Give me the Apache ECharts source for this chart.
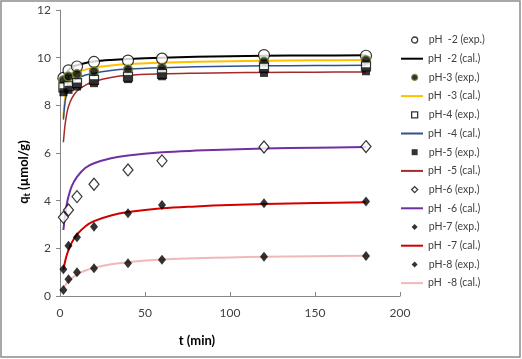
<!DOCTYPE html>
<html><head><meta charset="utf-8">
<script src="https://cdn.jsdelivr.net/npm/echarts@6/dist/echarts.min.js"></script>
<style>html,body{margin:0;padding:0;background:#fff}#c{width:522px;height:359px}</style>
</head><body><div id="c"></div>
<script>
// Experimental time points (min)
const tExp = [2, 5, 10, 20, 40, 60, 120, 180];
// Calculated curve time points (min)
const tCal = [2, 3, 4, 5, 7, 10, 15, 20, 30, 40, 60, 80, 100, 120, 150, 180];

const pH2Exp = [9.15, 9.47, 9.63, 9.82, 9.88, 9.96, 10.11, 10.08];
const pH3Exp = [9.05, 9.21, 9.31, 9.42, 9.5, 9.57, 9.83, 9.89];
const pH4Exp = [8.75, 8.8, 8.93, 9.07, 9.2, 9.32, 9.58, 9.63];
const pH5Exp = [8.55, 8.65, 8.79, 8.93, 9.1, 9.22, 9.36, 9.43];
const pH6Exp = [3.3, 3.61, 4.17, 4.69, 5.29, 5.67, 6.25, 6.27];
const pH7Exp = [1.12, 2.11, 2.46, 2.91, 3.47, 3.82, 3.89, 3.96];
const pH8Exp = [0.25, 0.7, 1.0, 1.16, 1.37, 1.52, 1.65, 1.68];

const pH2Cal = [8.9, 9.2, 9.38, 9.48, 9.6, 9.68, 9.78, 9.84, 9.9, 9.94, 10.0, 10.04, 10.06, 10.08, 10.09, 10.1];
const pH3Cal = [7.5, 8.3, 8.7, 8.95, 9.2, 9.35, 9.5, 9.58, 9.67, 9.73, 9.79, 9.83, 9.85, 9.87, 9.89, 9.9];
const pH4Cal = [7.4, 8.15, 8.5, 8.72, 8.95, 9.12, 9.27, 9.35, 9.46, 9.52, 9.58, 9.62, 9.64, 9.66, 9.67, 9.68];
const pH5Cal = [6.45, 7.2, 7.65, 7.95, 8.3, 8.6, 8.85, 9.0, 9.17, 9.26, 9.32, 9.35, 9.37, 9.38, 9.39, 9.4];
const pH6Cal = [2.77, 3.4, 3.85, 4.18, 4.62, 5.0, 5.38, 5.57, 5.78, 5.9, 6.03, 6.1, 6.15, 6.19, 6.22, 6.25];
const pH7Cal = [1.1, 1.45, 1.72, 1.92, 2.25, 2.58, 2.93, 3.14, 3.38, 3.52, 3.68, 3.76, 3.82, 3.86, 3.9, 3.93];
const pH8Cal = [0.32, 0.44, 0.54, 0.62, 0.75, 0.9, 1.07, 1.18, 1.33, 1.42, 1.53, 1.58, 1.62, 1.65, 1.67, 1.69];

const xTicks = [0, 50, 100, 150, 200];
const yTicks = [0, 2, 4, 6, 8, 10, 12];

const expNames = ['pH  -2 (exp.)', 'pH-3 (exp.)', 'pH-4 (exp.)', 'pH-5 (exp.)', 'pH-6 (exp.)', 'pH-7 (exp.)', 'pH-8 (exp.)'];
const calNames = ['pH  -2 (cal.)', 'pH  -3 (cal.)', 'pH  -4 (cal.)', 'pH  -5 (cal.)', 'pH  -6 (cal.)', 'pH  -7 (cal.)', 'pH  -8 (cal.)'];

const zip = (xs, ys) => xs.map((x, i) => [x, ys[i]]);
const FONT = 'Lato, "Open Sans", sans-serif';

function sc(name, ys, symbol, size, style) {
  return { name, type: 'scatter', data: zip(tExp, ys), symbol, symbolSize: size, itemStyle: style, z: 3 };
}
function ln(name, ys, color, width) {
  return { name, type: 'line', data: zip(tCal, ys), symbol: 'none', smooth: 0.35,
    lineStyle: { color, width }, itemStyle: { color }, z: 2 };
}

const expStyles = [
  { icon: 'circle', itemStyle: { color: '#fff', borderColor: '#000', borderWidth: 1.3 } },
  { icon: 'circle', itemStyle: { color: '#000', borderColor: '#6e8b2e', borderWidth: 1.2 } },
  { icon: 'rect', itemStyle: { color: '#fff', borderColor: '#000', borderWidth: 1.3 } },
  { icon: 'rect', itemStyle: { color: '#000', borderWidth: 0 } },
  { icon: 'diamond', itemStyle: { color: '#fff', borderColor: '#000', borderWidth: 1.3 } },
  { icon: 'diamond', itemStyle: { color: '#000', borderWidth: 0 } },
  { icon: 'diamond', itemStyle: { color: '#000', borderWidth: 0 } }
];
const calColors = ['#000000', '#FFC000', '#2F528F', '#A52A2A', '#7030A0', '#D00000', '#F2B8B8'];

const series = [
  sc(expNames[0], pH2Exp, 'circle', 11, { color: '#fff', borderColor: '#000', borderWidth: 1.2 }),
  ln(calNames[0], pH2Cal, calColors[0], 2),
  sc(expNames[1], pH3Exp, 'circle', 9, { color: '#000', borderColor: '#6e8b2e', borderWidth: 1.5 }),
  ln(calNames[1], pH3Cal, calColors[1], 2),
  sc(expNames[2], pH4Exp, 'rect', 9, { color: '#fff', borderColor: '#000', borderWidth: 1.2 }),
  ln(calNames[2], pH4Cal, calColors[2], 1.5),
  sc(expNames[3], pH5Exp, 'rect', 8, { color: '#000' }),
  ln(calNames[3], pH5Cal, calColors[3], 1.5),
  sc(expNames[4], pH6Exp, 'diamond', [10, 12], { color: '#fff', borderColor: '#000', borderWidth: 1.2 }),
  ln(calNames[4], pH6Cal, calColors[4], 2),
  sc(expNames[5], pH7Exp, 'diamond', [8, 10], { color: '#000' }),
  ln(calNames[5], pH7Cal, calColors[5], 2),
  sc(expNames[6], pH8Exp, 'diamond', [8, 10], { color: '#000' }),
  ln(calNames[6], pH8Cal, calColors[6], 2)
];

const legendText = { color: '#404040', fontSize: 10.5, fontFamily: FONT, lineHeight: 12 };

const chart = echarts.init(document.getElementById('c'), null, { renderer: 'canvas' });
chart.setOption({
  animation: false,
  backgroundColor: '#fff',
  grid: { left: 60, right: 122, top: 10, bottom: 63 },
  xAxis: {
    type: 'value', min: xTicks[0], max: xTicks[xTicks.length - 1], interval: 50,
    axisLine: { lineStyle: { color: '#868686', width: 1 } },
    axisTick: { show: true, inside: true, length: 4, lineStyle: { color: '#868686' } },
    splitLine: { show: false },
    axisLabel: { color: '#404040', fontSize: 12, fontFamily: FONT, margin: 11 }
  },
  yAxis: {
    type: 'value', min: yTicks[0], max: yTicks[yTicks.length - 1], interval: 2,
    axisLine: { show: true, lineStyle: { color: '#868686', width: 1 } },
    axisTick: { show: true, inside: false, length: 4, lineStyle: { color: '#868686' } },
    splitLine: { show: false },
    axisLabel: { color: '#404040', fontSize: 12, fontFamily: FONT, margin: 9 }
  },
  legend: [
    {
      orient: 'vertical', left: 406, top: 29,
      itemWidth: 6, itemHeight: 6, itemGap: 25.4, symbolKeepAspect: true,
      data: expNames.map((n, i) => ({ name: n, icon: expStyles[i].icon, itemStyle: expStyles[i].itemStyle })),
      textStyle: Object.assign({ padding: [0, 0, 0, 6] }, legendText)
    },
    {
      orient: 'vertical', left: 396, top: 47.7,
      itemWidth: 22, itemHeight: 2, itemGap: 25.4,
      data: calNames.map((n, i) => ({ name: n, icon: 'rect', itemStyle: { color: calColors[i], borderWidth: 0 } })),
      textStyle: legendText
    }
  ],
  graphic: [
    { type: 'rect', shape: { x: 1, y: 1, width: 519, height: 356 },
      style: { fill: 'none', stroke: '#8c8c8c', lineWidth: 1.5 }, silent: true, z: 100 },
    { type: 'text', x: 197, y: 341,
      style: { text: 't (min)', font: 'bold 13px ' + FONT, fill: '#000', align: 'center', verticalAlign: 'middle' } },
    { type: 'text', x: 24, y: 172, rotation: Math.PI / 2,
      style: { text: '{a|q}{b|t}{a| (µmol/g)}', align: 'center', verticalAlign: 'middle',
        rich: { a: { font: 'bold 13px ' + FONT, fill: '#000' },
                b: { font: 'bold 9px ' + FONT, fill: '#000', padding: [6, 0, 0, 0] } } } }
  ],
  series
});
</script></body></html>
